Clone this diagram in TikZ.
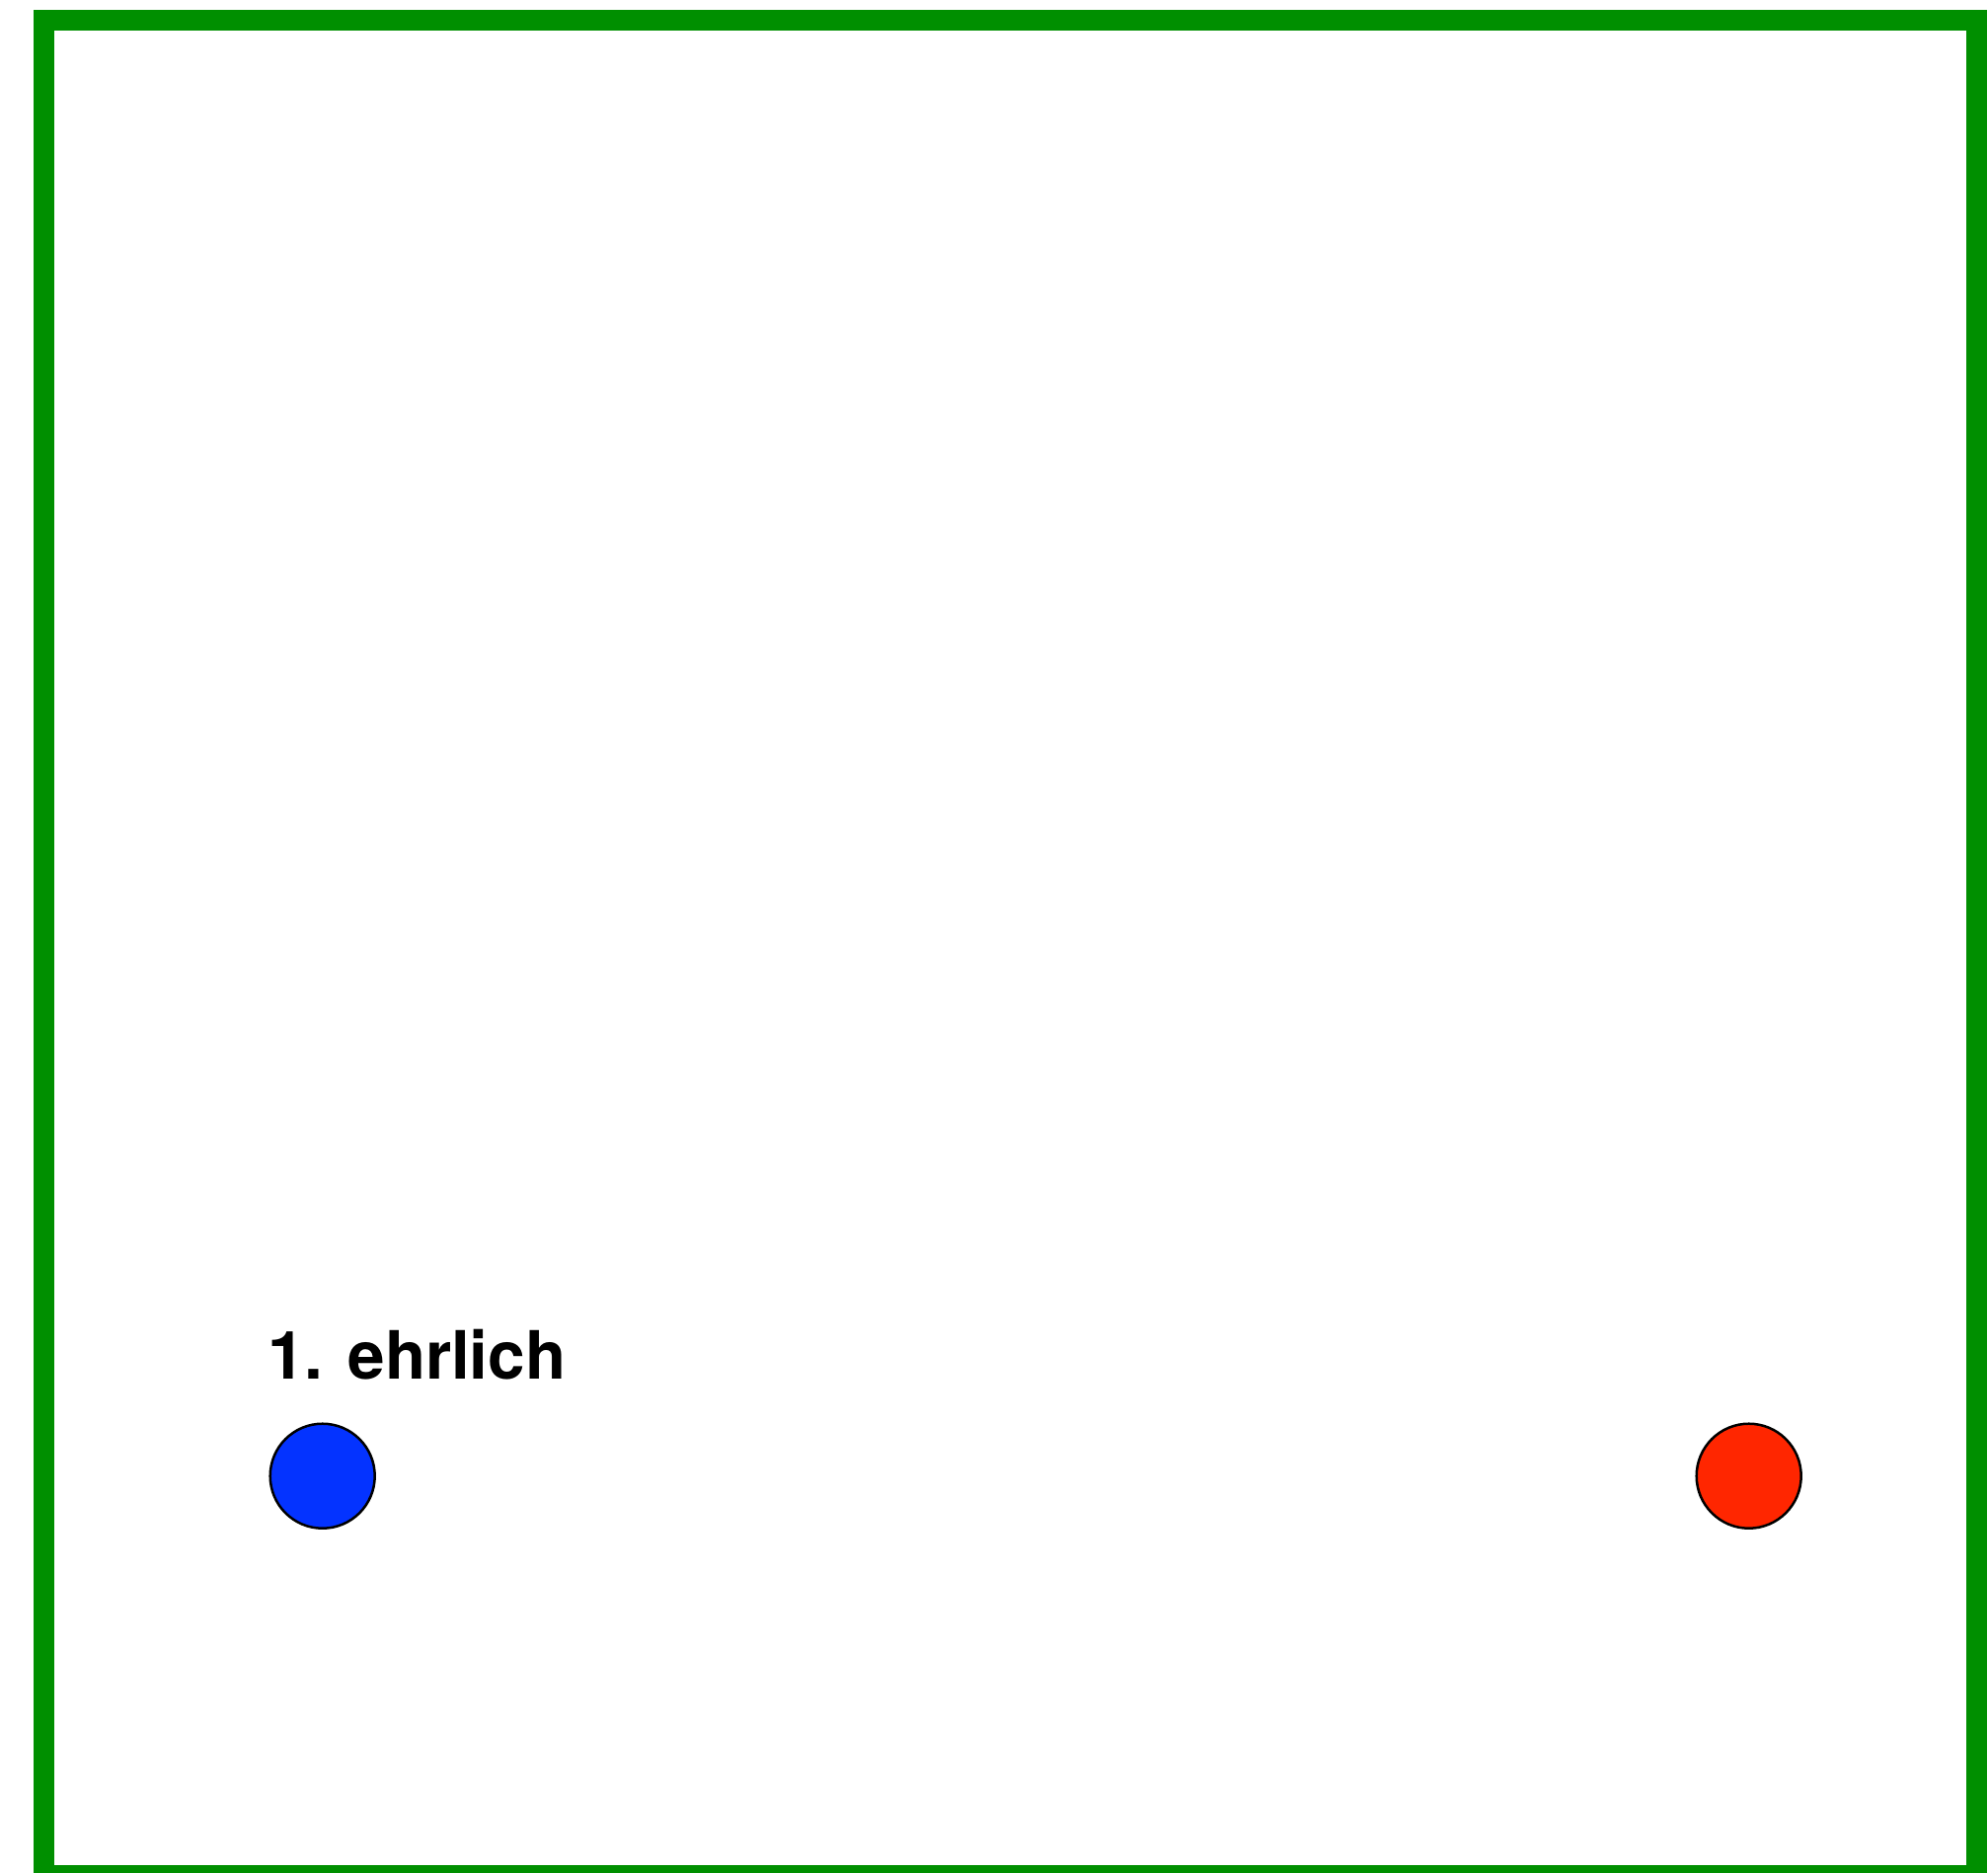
\documentclass[tikz,border=0pt]{standalone}
\usepackage{fontspec}
\newfontfamily\helv{TeX Gyre Heros}
\definecolor{framegreen}{HTML}{008F00}
\definecolor{dotblue}{HTML}{0433FF}
\definecolor{dotred}{HTML}{FF2600}
\begin{document}
\begin{tikzpicture}[x=1pt,y=1pt,
  dot/.style={circle,draw=black,line width=2.5pt,minimum size=106pt,inner sep=0pt},
  label/.style={inner sep=0pt,anchor=base west,font=\helv\bfseries\fontsize{67.5}{80}\selectfont}]
\useasboundingbox (0,0) rectangle (2014,-1898);
\clip (0,0) rectangle (2014,-1898);
\draw[framegreen,line width=21pt] (44.5,-20) rectangle (2002.5,-1900.5);
\node[label] (t) at (271,-1397.7) {1. ehrlich};
\node[dot,fill=dotblue] (b) at (326.7,-1495.7) {};
\node[dot,fill=dotred] (r) at (1771.7,-1495.7) {};
\end{tikzpicture}
\end{document}
